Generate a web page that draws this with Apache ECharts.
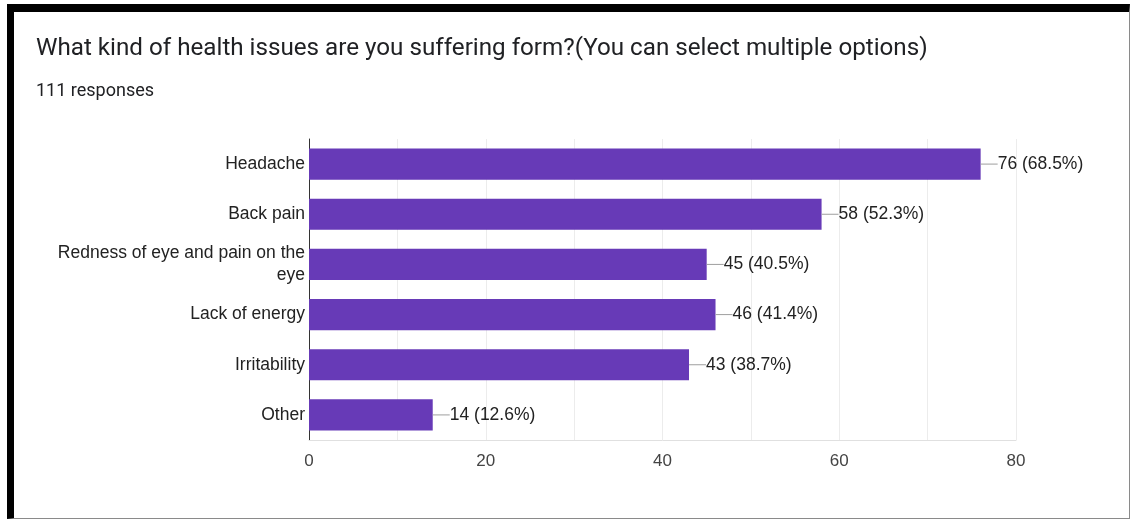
<!DOCTYPE html>
<html>
<head>
<meta charset="utf-8">
<script src="https://cdn.jsdelivr.net/npm/echarts@6/dist/echarts.min.js"></script>
<style>
  html, body { margin: 0; padding: 0; background: #fff; }
  #chart { position: absolute; left: 0; top: 0; width: 1131px; height: 522px; }
  #frame { position: absolute; left: 7px; top: 4px; width: 1115px; height: 506px;
           border-top: 8px solid #000; border-left: 7px solid #000;
           border-right: 1px solid #8a8a8a; border-bottom: 1px solid #8a8a8a; pointer-events: none; }
</style>
</head>
<body>
<div id="chart"></div>
<div id="frame"></div>
<script>
const titleText = 'What kind of health issues are you suffering form?(You can select multiple options)';
const subtitleText = '111 responses';
const categories = ['Headache', 'Back pain', 'Redness of eye and pain on the\neye', 'Lack of energy', 'Irritability', 'Other'];
const counts = [76, 58, 45, 46, 43, 14];
const percents = ['68.5%', '52.3%', '40.5%', '41.4%', '38.7%', '12.6%'];
const xTickLabels = [0, 20, 40, 60, 80];

const chart = echarts.init(document.getElementById('chart'), null, { renderer: 'canvas' });
chart.setOption({
  animation: false,
  backgroundColor: '#fff',
  title: [
    { text: titleText, left: 36, top: 37, padding: 0,
      textStyle: { fontFamily: 'Roboto', fontSize: 24.2, fontWeight: 'normal', color: '#202124' } },
    { text: subtitleText, left: 36, top: 82, padding: 0,
      textStyle: { fontFamily: 'Roboto', fontSize: 18, fontWeight: 'normal', color: '#202124' } }
  ],
  grid: { left: 309, right: 115, top: 139, bottom: 82, containLabel: false },
  xAxis: {
    type: 'value', min: 0, max: 80, interval: 10,
    axisLine: { show: true, lineStyle: { color: '#e0e0e0', width: 1 } },
    axisTick: { show: false },
    splitLine: { show: true, lineStyle: { color: '#ececec', width: 1 } },
    axisLabel: {
      margin: 13, color: '#444', fontFamily: 'Liberation Sans', fontSize: 17,
      formatter: v => xTickLabels.indexOf(v) >= 0 ? String(v) : ''
    }
  },
  yAxis: {
    type: 'category', data: categories, inverse: true,
    axisLine: { show: true, lineStyle: { color: '#333', width: 1 } },
    axisTick: { show: false },
    axisLabel: { margin: 4, color: '#222', fontFamily: 'Liberation Sans', fontSize: 17.5, lineHeight: 22, align: 'right' }
  },
  series: [{
    type: 'bar',
    data: counts,
    barCategoryGap: '38%',
    itemStyle: { color: '#673ab7' },
    label: {
      show: true, position: 'right', distance: 0,
      formatter: p => '{l|}{t|' + p.value + ' (' + percents[p.dataIndex] + ')}',
      rich: {
        l: { width: 17, height: 1, backgroundColor: '#9e9e9e' },
        t: { color: '#222', fontFamily: 'Liberation Sans', fontSize: 17.5 }
      }
    }
  }]
});
</script>
</body>
</html>
